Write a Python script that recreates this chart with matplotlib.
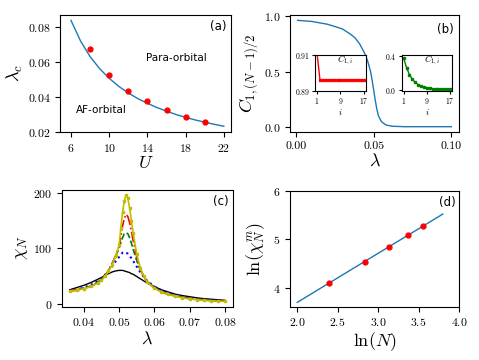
import numpy as np
import matplotlib
matplotlib.use("Agg")
import matplotlib.pyplot as plt

plt.rcParams['font.family'] = 'serif'
plt.rcParams['font.serif'] = ['cmr10']
plt.rcParams['mathtext.fontset'] = 'cm'
plt.rcParams['axes.unicode_minus'] = False
plt.rcParams['axes.formatter.use_mathtext'] = True

# (a) critical coupling vs U
U_fit = [6, 7, 8, 9, 10, 11, 12, 13, 14, 15, 16, 17, 18, 19, 20, 21, 22]
lc_fit = [0.0838, 0.0720, 0.0631, 0.0562, 0.0507, 0.0461, 0.0423, 0.0391,
          0.0364, 0.0340, 0.0319, 0.0300, 0.0284, 0.0269, 0.0256, 0.0244, 0.0233]
U_pts = [8, 10, 12, 14, 16, 18, 20]
lc_pts = [0.0674, 0.0524, 0.0434, 0.0376, 0.0325, 0.0283, 0.0256]

# (b) correlation vs lambda
lam_b = [0.001, 0.01, 0.02, 0.027, 0.03, 0.035, 0.038, 0.041, 0.044, 0.046,
         0.048, 0.049, 0.050, 0.051, 0.052, 0.053, 0.055, 0.058, 0.062, 0.07, 0.1]
C_b = [0.965, 0.955, 0.93, 0.90, 0.885, 0.84, 0.805, 0.75, 0.67, 0.60,
       0.50, 0.42, 0.33, 0.24, 0.16, 0.10, 0.045, 0.015, 0.004, 0.0, 0.0]
i_vals = list(range(1, 18))
C_left = [0.911] + [0.8962] * 16
C_right = [0.37, 0.26, 0.18, 0.125, 0.09, 0.065, 0.048, 0.036, 0.027, 0.021,
           0.017, 0.014, 0.012, 0.011, 0.010, 0.010, 0.010]

# (c) susceptibility for N = 11, 17, 23, 29, 35
lam_c = [0.036, 0.038, 0.040, 0.042, 0.044, 0.045, 0.046, 0.047, 0.048, 0.049,
         0.050, 0.0505, 0.051, 0.0515, 0.052, 0.0525, 0.053, 0.0535, 0.054, 0.055,
         0.056, 0.057, 0.058, 0.060, 0.062, 0.064, 0.066, 0.068, 0.070, 0.072,
         0.074, 0.076, 0.078, 0.080]
chi_11 = [25, 29, 33, 38, 44, 47, 51, 54, 57, 59, 60, 60, 60, 59, 58, 57, 56, 54,
          53, 49, 45, 41, 37, 31, 25, 21, 17, 14.5, 12.5, 10.5, 9, 8, 7, 6]
chi_17 = [23, 25, 29, 34, 41, 46, 52, 59, 67, 76, 84, 88, 92, 93, 92, 90, 86, 82,
          77, 67, 57, 48, 41, 31, 24, 19, 15, 12, 10, 8.5, 7, 6, 5.5, 5]
chi_23 = [23, 24, 28, 32, 39, 44, 51, 60, 71, 85, 100, 110, 119, 126, 128, 126,
          119, 109, 98, 78, 61, 49, 40, 29, 22, 17, 14, 11.5, 9.5, 8, 7, 6, 5, 4.5]
chi_29 = [23, 25, 27, 31, 38, 43, 50, 60, 72, 86, 102, 120, 140, 154, 161, 157,
          146, 131, 114, 85, 63, 49, 39, 28, 21, 16.5, 13.5, 11, 9, 7.5, 6.5, 5.5, 5, 4.5]
chi_35 = [22, 24, 27, 31, 37, 42, 49, 58, 70, 86, 105, 136, 165, 186, 196, 190,
          172, 150, 127, 90, 65, 49, 39, 28, 21, 16.5, 13, 10.5, 8.5, 7, 6, 5, 4.5, 4]

# (d) scaling of the peak
lnN = [2.398, 2.833, 3.135, 3.367, 3.555]
lnchi = [4.10, 4.54, 4.85, 5.09, 5.28]
lnN_fit = [2.0, 3.8]
lnchi_fit = [3.70, 5.52]

tick_fs = 8.5
lab_fs = 13

fig = plt.figure(figsize=(4.79, 3.6), dpi=100)
ax_a = fig.add_axes([0.1253, 0.6333, 0.357, 0.325])
ax_b = fig.add_axes([0.6054, 0.6333, 0.3528, 0.325])
ax_c = fig.add_axes([0.1294, 0.148, 0.356, 0.325])
ax_d = fig.add_axes([0.6054, 0.148, 0.3528, 0.322])

for ax in (ax_a, ax_b, ax_c, ax_d):
    ax.tick_params(labelsize=tick_fs)

# (a)
ax_a.plot(U_fit, lc_fit, color='C0', lw=1)
ax_a.plot(U_pts, lc_pts, 'o', color='red', ms=3.5)
ax_a.set_xlim(4.85, 22.75)
ax_a.set_ylim(0.02, 0.0869)
ax_a.set_xticks([6, 10, 14, 18, 22])
ax_a.set_yticks([0.02, 0.04, 0.06, 0.08])
ax_a.set_xlabel(r'$U$', fontsize=lab_fs, labelpad=1)
ax_a.set_ylabel(r'$\lambda_c$', fontsize=lab_fs, labelpad=2)
ax_a.text(17.0, 0.0622, 'Para-orbital', family='DejaVu Sans', fontsize=7.5,
          ha='center', va='center')
ax_a.text(9.2, 0.0325, 'AF-orbital', family='DejaVu Sans', fontsize=7.5,
          ha='center', va='center')
ax_a.text(0.925, 0.9, '(a)', transform=ax_a.transAxes, family='DejaVu Sans',
          fontsize=8.5, ha='center', va='center')

# (b)
ax_b.plot(lam_b, C_b, color='C0', lw=1)
ax_b.set_xticks([0.0, 0.05, 0.1])
ax_b.set_xticklabels(['0.00', '0.05', '0.10'])
ax_b.set_yticks([0.0, 0.5, 1.0])
ax_b.set_xlabel(r'$\lambda$', fontsize=lab_fs, labelpad=1)
ax_b.set_ylabel(r'$C_{1,(N-1)/2}$', fontsize=lab_fs, labelpad=2)
ax_b.text(0.917, 0.88, '(b)', transform=ax_b.transAxes, family='DejaVu Sans',
          fontsize=8.5, ha='center', va='center')

in_l = fig.add_axes([0.6576, 0.7472, 0.1065, 0.1])
in_r = fig.add_axes([0.8386, 0.7472, 0.105, 0.1])
in_l.plot(i_vals, C_left, 's-', color='red', ms=1.5, lw=1)
in_l.set_ylim(0.89, 0.91)
in_l.set_yticks([0.89, 0.91])
in_r.plot(i_vals, C_right, 's-', color='green', ms=1.5, lw=1)
in_r.set_ylim(-0.01, 0.41)
in_r.set_yticks([0.0, 0.4])
for ax in (in_l, in_r):
    ax.set_xlim(0.3, 17.7)
    ax.set_xticks([1, 9, 17])
    ax.tick_params(labelsize=5.5, length=2, pad=1.5)
    ax.set_xlabel(r'$i$', fontsize=6.5, labelpad=1)
    ax.text(0.6, 0.85, r'$C_{1,i}$', transform=ax.transAxes, fontsize=6.5,
            ha='center', va='center')

# (c)
ax_c.plot(lam_c, chi_11, '-', color='k', lw=1)
ax_c.plot(lam_c, chi_17, ':', color='b', lw=1.5)
ax_c.plot(lam_c, chi_23, '--', color='g', lw=1.2)
ax_c.plot(lam_c, chi_29, '-.', color='r', lw=1.2)
ax_c.plot(lam_c, chi_35, 's-', color='y', lw=1.2, ms=2)
ax_c.set_xticks([0.04, 0.05, 0.06, 0.07, 0.08])
ax_c.set_yticks([0, 100, 200])
ax_c.set_xlabel(r'$\lambda$', fontsize=lab_fs, labelpad=1)
ax_c.set_ylabel(r'$\chi_N$', fontsize=lab_fs, labelpad=2)
ax_c.text(0.93, 0.9, '(c)', transform=ax_c.transAxes, family='DejaVu Sans',
          fontsize=8.5, ha='center', va='center')

# (d)
ax_d.plot(lnN_fit, lnchi_fit, color='C0', lw=1)
ax_d.plot(lnN, lnchi, 'o', color='red', ms=3.5)
ax_d.set_xlim(1.91, 4.0)
ax_d.set_ylim(3.61, 6.0)
ax_d.set_xticks([2.0, 2.5, 3.0, 3.5, 4.0])
ax_d.set_yticks([4, 5, 6])
ax_d.set_xlabel(r'$\ln(N)$', fontsize=lab_fs, labelpad=1)
ax_d.set_ylabel(r'$\ln(\chi_N^m)$', fontsize=lab_fs, labelpad=4)
ax_d.text(0.93, 0.9, '(d)', transform=ax_d.transAxes, family='DejaVu Sans',
          fontsize=8.5, ha='center', va='center')

fig.savefig('out.png', dpi=100)
